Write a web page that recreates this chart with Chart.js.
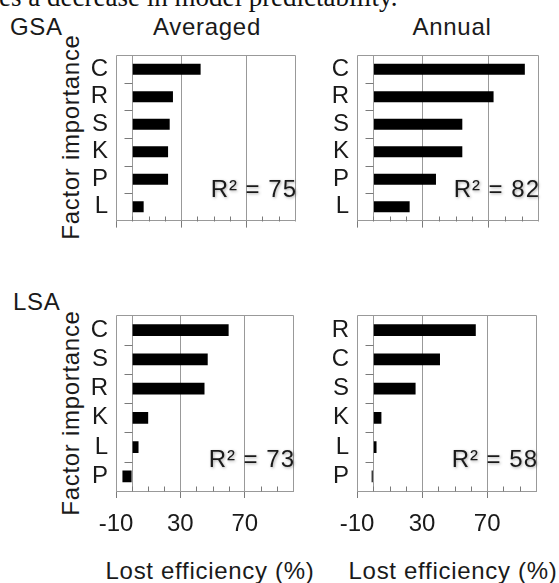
<!DOCTYPE html>
<html lang="en">
<head>
  <meta charset="UTF-8">
  <title>Factor importance – lost efficiency</title>
  <script src="https://cdn.jsdelivr.net/npm/chart.js"></script>
  <style>
    body {
      margin: 0;
      width: 559px;
      height: 583px;
      overflow: hidden;
      background: #fff;
      position: relative;
      font-family: 'Liberation Sans', Arial, sans-serif;
      color: #1a1a1a;
    }

    .txt {
      position: absolute;
      font-size: 24px;
      line-height: 24px;
      white-space: nowrap;
    }

    .center { text-align: center; width: 220px; }
    .wide { letter-spacing: 0.7px; }

    .ytitle {
      width: 220px;
      height: 24px;
      text-align: center;
      transform: rotate(-90deg);
    }

    #caption {
      position: absolute;
      left: -1px;
      top: -16px;
      font-family: 'Liberation Serif', 'Times New Roman', serif;
      font-size: 27px;
      line-height: 27px;
      white-space: nowrap;
      color: #111;
    }

    .panel { position: absolute; }
  </style>
</head>
<body>
  <div id="caption">es a decrease in model predictability.</div>

  <div class="txt wide" style="left:10px; top:15px;">GSA</div>
  <div class="txt center wide" style="left:97px; top:15px;">Averaged</div>
  <div class="txt center wide" style="left:342px; top:15px;">Annual</div>
  <div class="txt wide" style="left:13px; top:290px;">LSA</div>

  <div class="txt ytitle wide" style="left:-39px; top:125px;">Factor importance</div>
  <div class="txt ytitle wide" style="left:-39px; top:401px;">Factor importance</div>

  <div class="txt center wide" style="left:100px; top:559px;">Lost efficiency (%)</div>
  <div class="txt center wide" style="left:343px; top:559px;">Lost efficiency (%)</div>

  <div class="panel" style="left:80px; top:33px;"><canvas id="gsaAvg" width="225" height="210"></canvas></div>
  <div class="panel" style="left:321px; top:33px;"><canvas id="gsaAnn" width="227" height="210"></canvas></div>
  <div class="panel" style="left:80px; top:293px;"><canvas id="lsaAvg" width="225" height="250"></canvas></div>
  <div class="panel" style="left:321px; top:293px;"><canvas id="lsaAnn" width="227" height="250"></canvas></div>

  <script>
    // values (lost efficiency, %)
    const gsaAvgFactors = ['C', 'R', 'S', 'K', 'P', 'L'];
    const gsaAvgLoss = [42, 25, 23, 22, 22, 7];
    const gsaAvgR2 = 75;

    const gsaAnnFactors = ['C', 'R', 'S', 'K', 'P', 'L'];
    const gsaAnnLoss = [92, 73, 54, 54, 38, 22];
    const gsaAnnR2 = 82;

    const lsaAvgFactors = ['C', 'S', 'R', 'K', 'L', 'P'];
    const lsaAvgLoss = [60, 47, 45, 10, 4, -6];
    const lsaAvgR2 = 73;

    const lsaAnnFactors = ['R', 'C', 'S', 'K', 'L', 'P'];
    const lsaAnnLoss = [63, 41, 26, 5, 2, -1];
    const lsaAnnR2 = 58;

    const xMin = -10;
    const xMax = 100;
    const xStep = 10;
    const xLabelled = [-10, 30, 70];
    const xGridAt = [0, 30, 70];

    const font = { family: "'Liberation Sans', Arial, sans-serif", size: 24 };
    const textColor = '#1a1a1a';
    const lineColor = '#999';
    const tickColor = '#7a7a7a';

    // frame, inside ticks, category ticks and the R² note
    const framePlugin = {
      id: 'frame',
      afterDatasetsDraw(chart) {
        const ctx = chart.ctx;
        const a = chart.chartArea;
        const xs = chart.scales.x;
        const left = Math.round(a.left) + 0.5;
        const top = Math.round(a.top) + 0.5;
        const right = Math.round(a.right) + 0.5;
        const bottom = Math.round(a.bottom) + 0.5;
        const zero = Math.round(xs.getPixelForValue(0)) + 0.5;

        ctx.save();
        ctx.lineWidth = 1;
        ctx.strokeStyle = lineColor;
        ctx.beginPath();
        ctx.moveTo(left, bottom);
        ctx.lineTo(left, top);
        ctx.lineTo(right, top);
        ctx.lineTo(right, bottom);
        ctx.stroke();

        ctx.strokeStyle = tickColor;
        ctx.beginPath();
        xs.ticks.forEach(t => {
          if (xLabelled.includes(t.value) || t.value === xMax) return;
          const px = Math.round(xs.getPixelForValue(t.value)) + 0.5;
          ctx.moveTo(px, bottom);
          ctx.lineTo(px, bottom - 5);
        });
        const bars = chart.getDatasetMeta(0).data;
        for (let i = 0; i < bars.length - 1; i++) {
          const py = Math.round((bars[i].y + bars[i + 1].y) / 2) + 0.5;
          ctx.moveTo(zero, py);
          ctx.lineTo(zero - 8, py);
        }
        ctx.stroke();
        ctx.restore();
      },
      afterDraw(chart, args, opts) {
        const { ctx, chartArea: a } = chart;
        ctx.save();
        ctx.font = `${font.size}px ${font.family}`;
        ctx.letterSpacing = '1px';
        ctx.fillStyle = textColor;
        ctx.textAlign = 'right';
        ctx.textBaseline = 'alphabetic';
        ctx.shadowColor = 'rgba(0,0,0,0.35)';
        ctx.shadowBlur = 3;
        ctx.shadowOffsetX = 1;
        ctx.shadowOffsetY = 1;
        ctx.fillText('R\u00B2 = ' + opts.r2, a.right + 2, a.bottom - 24);
        ctx.restore();
      }
    };

    function makePanel(id, factors, loss, r2, showXLabels) {
      const canvas = document.getElementById(id);
      const plotHeight = showXLabels ? 188 : 187;
      const xHeight = canvas.height - 10 - plotHeight;
      return new Chart(canvas, {
        type: 'bar',
        data: {
          labels: factors,
          datasets: [{
            data: loss,
            backgroundColor: '#000',
            borderWidth: 0,
            barPercentage: 0.4,
            categoryPercentage: 1
          }]
        },
        options: {
          indexAxis: 'y',
          responsive: false,
          animation: false,
          layout: { padding: { top: 10, right: 10, left: 0, bottom: 0 } },
          plugins: {
            legend: { display: false },
            tooltip: { enabled: false },
            frame: { r2: r2 }
          },
          scales: {
            x: {
              type: 'linear',
              min: xMin,
              max: xMax,
              afterFit: s => { s.height = xHeight; },
              border: { display: true, color: lineColor },
              grid: {
                color: c => xGridAt.includes(c.tick.value) ? lineColor : 'rgba(0,0,0,0)',
                tickColor: c => xLabelled.includes(c.tick.value) ? tickColor : 'rgba(0,0,0,0)',
                tickLength: 7
              },
              ticks: {
                display: showXLabels,
                stepSize: xStep,
                autoSkip: false,
                maxRotation: 0,
                padding: 12,
                color: textColor,
                font: font,
                callback: v => xLabelled.includes(v) ? String(v) : ''
              }
            },
            y: {
              afterFit: s => { s.width = 36; },
              border: { display: false },
              grid: { display: false, drawTicks: false },
              ticks: { autoSkip: false, padding: 8, color: textColor, font: font }
            }
          }
        },
        plugins: [framePlugin]
      });
    }

    makePanel('gsaAvg', gsaAvgFactors, gsaAvgLoss, gsaAvgR2, false);
    makePanel('gsaAnn', gsaAnnFactors, gsaAnnLoss, gsaAnnR2, false);
    makePanel('lsaAvg', lsaAvgFactors, lsaAvgLoss, lsaAvgR2, true);
    makePanel('lsaAnn', lsaAnnFactors, lsaAnnLoss, lsaAnnR2, true);
  </script>
</body>
</html>
